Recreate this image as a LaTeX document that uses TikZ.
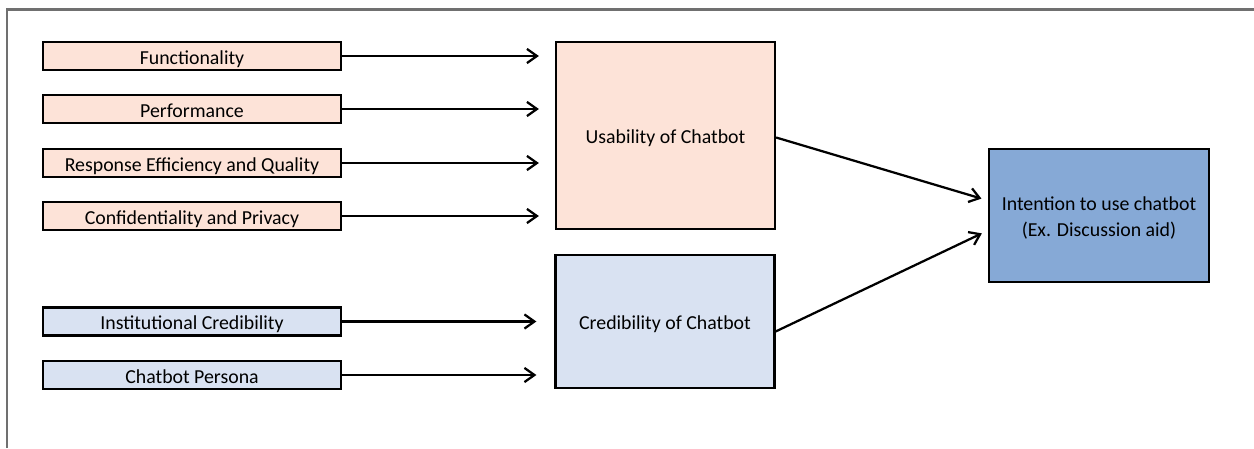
\documentclass[tikz,border=0pt]{standalone}
\usepackage{fontspec}
\setmainfont{Carlito}
\usetikzlibrary{arrows.meta,calc}
\definecolor{pinkfill}{HTML}{FDE3D8}
\definecolor{lightblue}{HTML}{D9E2F2}
\definecolor{midblue}{HTML}{86A9D6}
\definecolor{framegray}{HTML}{707070}
% lower a line of text without changing its box
\newcommand{\lowerline}[1]{\raisebox{-1.4pt}[\height][\depth]{#1}}
\begin{document}
\begin{tikzpicture}[x=0.6pt,y=-0.6pt,
  factor/.style={draw=black,line width=1.35pt,minimum width=178.8pt,minimum height=16.8pt,inner sep=0pt,
    text height=11.5pt,text depth=1.5pt,font=\fontsize{11.9pt}{14pt}\selectfont},
  construct/.style={draw=black,line width=1.35pt,minimum width=131.4pt,inner sep=0pt,align=center,font=\fontsize{11.9pt}{16pt}\selectfont},
  link/.style={line width=1.35pt,-{Straight Barb[length=6pt,width=8.5pt,line width=1.35pt]}}]
\useasboundingbox (0,0) rectangle (1254,448);
% outer frame, cut off at the right and bottom
\draw[framegray,line width=1.3pt] (7,448) -- (7,9.5) -- (1254,9.5);

% usability factors
\node[factor,fill=pinkfill] (f1) at (192,56) {Functionality};
\node[factor,fill=pinkfill] (f2) at (192,109) {Performance};
\node[factor,fill=pinkfill] (f3) at (192,163) {Response Efficiency and Quality};
\node[factor,fill=pinkfill] (f4) at (192,216) {Confidentiality and Privacy};
% credibility factors
\node[factor,fill=lightblue] (c1) at (192,321.5) {Institutional Credibility};
\node[factor,fill=lightblue] (c2) at (192,375) {Chatbot Persona};

% constructs
\node[construct,fill=pinkfill,minimum height=112.2pt,text height=11pt,text depth=2pt] (use) at (665.5,135.5) {Usability of Chatbot};
\node[construct,fill=lightblue,minimum height=79.8pt,text height=11pt,text depth=2pt] (cred) at (665,321.5) {Credibility of Chatbot};
\node[construct,fill=midblue,minimum width=132pt,minimum height=79.8pt] (int) at (1099,215.5)
  {\lowerline{Intention to use chatbot}\\\lowerline{(Ex. Discussion aid)}};

% factor arrows
\foreach \f in {f1,f2,f3,f4}
  \draw[link,shorten >=9.6pt] (\f.east) -- (\f.east -| use.west);
\foreach \f in {c1,c2}
  \draw[link,shorten >=10.8pt] (\f.east) -- (\f.east -| cred.west);

% construct arrows
\draw[link,shorten >=4pt] ($(use.east)+(0,2)$) -- ($(int.west)+(0,-15)$);
\draw[link,shorten >=4pt] ($(cred.east)+(0,10)$) -- ($(int.west)+(0,15)$);
\end{tikzpicture}
\end{document}
